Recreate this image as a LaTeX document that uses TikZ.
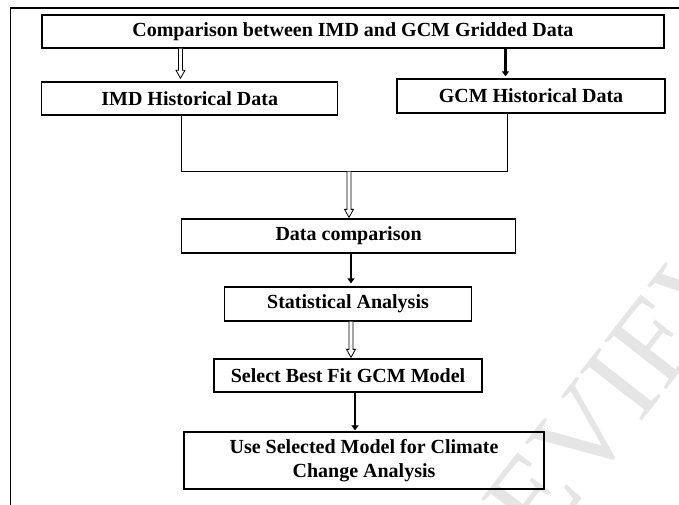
\documentclass[tikz,border=0pt]{standalone}
\usepackage{fontspec}
\setmainfont{Liberation Serif}
\usetikzlibrary{arrows.meta,calc}
\newcommand\hollowarr[2]{%
  \draw[line width=0.8pt,fill=white,line join=miter]
    ($(#1)+(-2,0)$) -- ($(#2)+(-2,-8)$) -- ($(#2)+(-4.5,-8)$) -- (#2)
    -- ($(#2)+(4.5,-8)$) -- ($(#2)+(2,-8)$) -- ($(#1)+(2,0)$);}
\begin{document}
\begin{tikzpicture}[x=1pt,y=-1pt,
  box/.style={draw=black,line width=1.3pt,fill=none,inner sep=2pt,align=center,
    font=\bfseries\fontsize{20}{24}\selectfont},
  solid/.style={line width=2.3pt,-{Triangle[length=5pt,width=7pt]}},
  link/.style={line width=1.3pt}]
\useasboundingbox (0,0) rectangle (679,504);
% watermark
\node[rotate=52,text=black!10,font=\fontsize{120}{120}\selectfont] (wm) at (585,432) {PREVIEW};
% outer frame (only top and left visible)
\draw[line width=1.4pt] (10.5,560) -- (10.5,8) -- (720,8);
% boxes
\node[box,minimum width=622pt,minimum height=33pt] (top) at (352.9,31.5) {Comparison between IMD and GCM Gridded Data};
\node[box,minimum width=296pt,minimum height=33pt] (imd) at (189.7,98.4) {IMD Historical Data};
\node[box,minimum width=268pt,minimum height=34pt] (gcm) at (531,96) {GCM Historical Data};
\node[box,minimum width=334pt,minimum height=34pt] (cmp) at (348.6,236) {Data comparison};
\node[box,minimum width=247pt,minimum height=34pt] (stat) at (348,304) {Statistical Analysis};
\node[box,minimum width=268pt,minimum height=33pt] (sel) at (348,375.5) {Select Best Fit GCM Model};
\node[box,minimum width=360pt,minimum height=57pt] (use) at (364,460.5) {Use Selected Model for Climate\\Change Analysis};
% reference x positions
\coordinate (xa) at (180.5,0);
\coordinate (xb) at (505.5,0);
\coordinate (xc) at (181.7,0);
\coordinate (xd) at (507.3,0);
\coordinate (merge) at (349,171.7);
\coordinate (xe) at (351,0);
\coordinate (xf) at (355,0);
% endpoints of hollow arrows
\coordinate (h1s) at (top.south -| xa);
\coordinate (h1e) at ([yshift=3pt]imd.north -| xa);
\coordinate (h2e) at ([yshift=1pt]cmp.north -| merge);
\coordinate (h3s) at (stat.south -| xe);
\coordinate (h3e) at ([yshift=1pt]sel.north -| xe);
% connectors
\hollowarr{h1s}{h1e}
\draw[solid] (top.south -| xb) -- ([yshift=2pt]gcm.north -| xb);
\draw[link] (imd.south -| xc) |- (merge) -| (gcm.south -| xd);
\hollowarr{merge}{h2e}
\draw[solid] (cmp.south -| xe) -- ([yshift=3pt]stat.north -| xe);
\hollowarr{h3s}{h3e}
\draw[solid] (sel.south -| xf) -- ([yshift=1pt]use.north -| xf);
\end{tikzpicture}
\end{document}
